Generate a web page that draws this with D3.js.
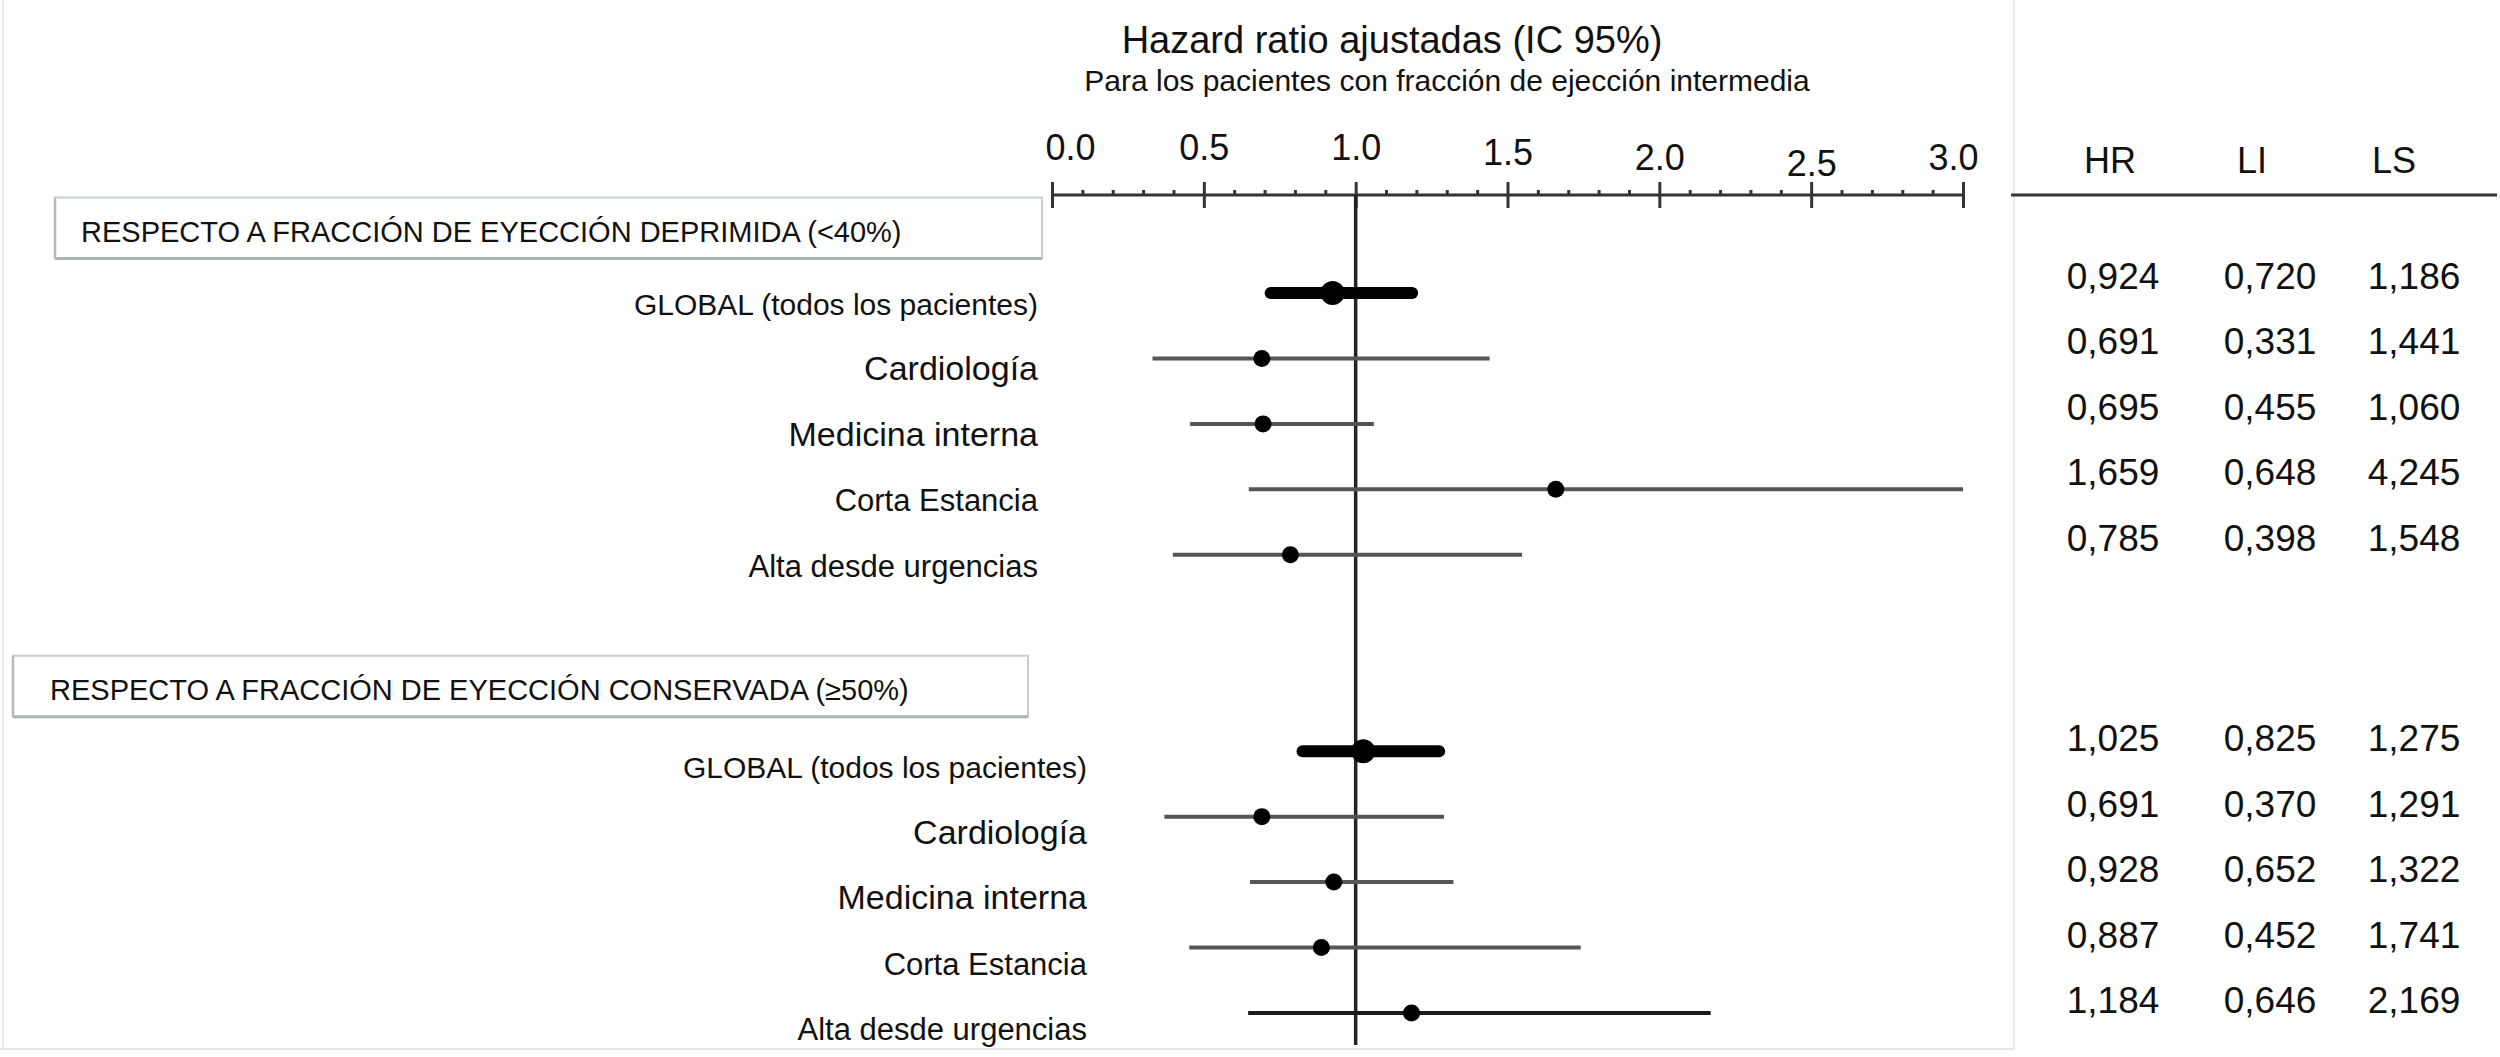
<!DOCTYPE html>
<html>
<head>
<meta charset="utf-8">
<script src="https://cdn.jsdelivr.net/npm/d3@7"></script>
<style>
  html, body { margin: 0; padding: 0; background: #fff; }
  svg { display: block; }
  text { font-family: "Liberation Sans", Arial, Helvetica, sans-serif; fill: #111; }
</style>
</head>
<body>
<svg id="chart" width="2500" height="1057"></svg>
<script>
// ---------------- DATA ----------------
const title = "Hazard ratio ajustadas (IC 95%)";
const subtitle = "Para los pacientes con fracción de ejección intermedia";
const groups = [
  "RESPECTO A FRACCIÓN DE EYECCIÓN DEPRIMIDA (<40%)",
  "RESPECTO A FRACCIÓN DE EYECCIÓN CONSERVADA (≥50%)"
];
const categories = [
  "GLOBAL (todos los pacientes)",
  "Cardiología",
  "Medicina interna",
  "Corta Estancia",
  "Alta desde urgencias"
];
const hrDeprimida  = [0.924, 0.691, 0.695, 1.659, 0.785];
const liDeprimida  = [0.720, 0.331, 0.455, 0.648, 0.398];
const lsDeprimida  = [1.186, 1.441, 1.060, 4.245, 1.548];
const hrConservada = [1.025, 0.691, 0.928, 0.887, 1.184];
const liConservada = [0.825, 0.370, 0.652, 0.452, 0.646];
const lsConservada = [1.275, 1.291, 1.322, 1.741, 2.169];
const majorTicks = [0, 0.5, 1, 1.5, 2, 2.5, 3];
const minorTicks = d3.range(0, 31).map(d => d / 10).filter(v => !majorTicks.some(m => Math.abs(m - v) < 1e-9));
const tableHeaders = ["HR", "LI", "LS"];
const refValue = 1;

// ---------------- STYLES / LAYOUT ----------------
const FONT = '"Liberation Sans", Arial, Helvetica, sans-serif';
const labelSize = {
  "GLOBAL (todos los pacientes)": 30,
  "Cardiología": 34,
  "Medicina interna": 34,
  "Corta Estancia": 31,
  "Alta desde urgencias": 31
};
const tickLabelShift = [[18, -3], [0, -3], [0, -3], [0, 2], [0, 7], [0, 13], [-10, 7]];
const groupLayout = [
  { boxX0: 55, boxX1: 1042, textX: 81, labelRight: 1038, labelDy: 22, tableDy: -4, rowStart: 0, boxRow: -1 },
  { boxX0: 13, boxX1: 1028, textX: 50, labelRight: 1087, labelDy: 27, tableDy: 0, rowStart: 7, boxRow: 6 }
];
const tableCols = [2113, 2270, 2414];
const headerCols = [2110, 2252, 2394];

const svg = d3.select("#chart");
const x = d3.scaleLinear().domain([0, 3]).range([1052, 1963]);
const y = d3.scaleLinear().domain([-1, 11]).range([227.5, 1013]);
const commaFmt = d3.formatLocale({ decimal: ",", thousands: ".", grouping: [3], currency: ["", "€"] }).format(".3f");

// faint frame lines
svg.append("line").attr("x1", 3).attr("x2", 3).attr("y1", 0).attr("y2", 1050)
  .attr("stroke", "#ececec").attr("stroke-width", 2);
svg.append("line").attr("x1", 0).attr("x2", 2014).attr("y1", 1049).attr("y2", 1049)
  .attr("stroke", "#e6e6e6").attr("stroke-width", 2);
svg.append("line").attr("x1", 2014).attr("x2", 2014).attr("y1", 0).attr("y2", 1050)
  .attr("stroke", "#ededed").attr("stroke-width", 2);

// Titles
svg.append("text").attr("x", 1392).attr("y", 53).attr("text-anchor", "middle")
  .attr("font-size", 38).text(title);
svg.append("text").attr("x", 1447).attr("y", 91).attr("text-anchor", "middle")
  .attr("font-size", 30).text(subtitle);

// Axis: domain line
svg.append("line").attr("x1", x(0)).attr("x2", x(3)).attr("y1", 195).attr("y2", 195)
  .attr("stroke", "#333").attr("stroke-width", 3);

// Major ticks with labels
const majorAxis = d3.axisTop(x).tickValues(majorTicks).tickFormat(d3.format(".1f"))
  .tickSizeInner(26).tickSizeOuter(0).tickPadding(19);
const gMaj = svg.append("g").attr("transform", "translate(0,208)").call(majorAxis);
gMaj.select(".domain").remove();
gMaj.selectAll(".tick line").attr("stroke", "#333").attr("stroke-width", 3);
gMaj.selectAll(".tick text").attr("font-size", 36).attr("font-family", FONT).attr("fill", "#111")
  .attr("dx", (d, i) => tickLabelShift[i][0])
  .attr("dy", (d, i) => tickLabelShift[i][1]);

// Minor ticks
const minorAxis = d3.axisTop(x).tickValues(minorTicks).tickFormat("")
  .tickSizeInner(5).tickSizeOuter(0);
const gMin = svg.append("g").attr("transform", "translate(0,195)").call(minorAxis);
gMin.select(".domain").remove();
gMin.selectAll(".tick line").attr("stroke", "#333").attr("stroke-width", 3);

// Reference line at 1
svg.append("line").attr("x1", x(refValue)).attr("x2", x(refValue)).attr("y1", 195).attr("y2", 1045)
  .attr("stroke", "#222").attr("stroke-width", 3.5);

// Table header
svg.selectAll("text.hdr").data(tableHeaders).enter().append("text").attr("class", "hdr")
  .attr("x", (d, i) => headerCols[i]).attr("y", 173).attr("text-anchor", "middle")
  .attr("font-size", 36).text(d => d);
svg.append("line").attr("x1", 2011).attr("x2", 2497).attr("y1", 195).attr("y2", 195)
  .attr("stroke", "#333").attr("stroke-width", 3);

// Groups
const groupData = [
  { name: groups[0], hr: hrDeprimida, li: liDeprimida, ls: lsDeprimida },
  { name: groups[1], hr: hrConservada, li: liConservada, ls: lsConservada }
];

const clipMax = x.domain()[1];

groupData.forEach((g, gi) => {
  const L = groupLayout[gi];
  const cy = y(L.boxRow);
  const gg = svg.append("g");

  // header box
  gg.append("rect").attr("x", L.boxX0).attr("y", cy - 30).attr("width", L.boxX1 - L.boxX0).attr("height", 61)
    .attr("fill", "#fff").attr("stroke", "#c6cfcf").attr("stroke-width", 2);
  gg.append("line").attr("x1", L.boxX0).attr("x2", L.boxX1).attr("y1", cy + 31).attr("y2", cy + 31)
    .attr("stroke", "#aab4b4").attr("stroke-width", 3);
  gg.append("line").attr("x1", L.boxX0).attr("x2", L.boxX0).attr("y1", cy - 30).attr("y2", cy + 31)
    .attr("stroke", "#b3bcbc").attr("stroke-width", 2.5);
  gg.append("text").attr("x", L.textX).attr("y", cy + 14).attr("font-size", 29).text(g.name);

  const rows = categories.map((c, i) => ({
    cat: c, i: i, hr: g.hr[i], li: g.li[i], ls: g.ls[i], yy: y(L.rowStart + i)
  }));

  // labels
  gg.selectAll("text.lbl").data(rows).enter().append("text").attr("class", "lbl")
    .attr("x", L.labelRight).attr("y", d => d.yy + L.labelDy).attr("text-anchor", "end")
    .attr("font-size", d => labelSize[d.cat]).text(d => d.cat);

  // CI lines
  gg.selectAll("line.ci").data(rows).enter().append("line").attr("class", "ci")
    .attr("x1", d => x(d.li)).attr("x2", d => x(Math.min(d.ls, clipMax)))
    .attr("y1", d => d.yy).attr("y2", d => d.yy)
    .attr("stroke", d => d.i === 0 ? "#000" : (gi === 1 && d.i === 4 ? "#1a1a1a" : "#555"))
    .attr("stroke-width", d => d.i === 0 ? 12 : 4)
    .attr("stroke-linecap", d => d.i === 0 ? "round" : "butt");

  // markers
  gg.selectAll("circle.pt").data(rows).enter().append("circle").attr("class", "pt")
    .attr("cx", d => x(d.hr)).attr("cy", d => d.yy)
    .attr("r", d => d.i === 0 ? 12 : 8.5).attr("fill", "#000");

  // table values
  rows.forEach(d => {
    [d.hr, d.li, d.ls].forEach((v, ci) => {
      gg.append("text").attr("x", tableCols[ci]).attr("y", d.yy + L.tableDy)
        .attr("text-anchor", "middle").attr("font-size", 37).text(commaFmt(v));
    });
  });
});
</script>
</body>
</html>
